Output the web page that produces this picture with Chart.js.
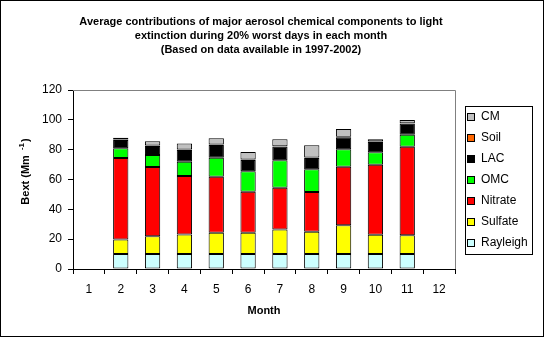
<!DOCTYPE html>
<html>
<head>
<meta charset="utf-8">
<script src="https://cdn.jsdelivr.net/npm/chart.js@4.4.1/dist/chart.umd.min.js"></script>
<style>
  html, body { margin: 0; padding: 0; background: #fff; }
  #wrap { width: 545px; height: 338px; position: relative; }
</style>
</head>
<body>
<div id="wrap"><canvas id="c" width="545" height="338"></canvas></div>
<script>
// Months on the category axis
const months = ['1', '2', '3', '4', '5', '6', '7', '8', '9', '10', '11', '12'];

// Light extinction contributions (Mm-1) per component, months 1-12
const rayleigh = [null, 10, 10, 10, 10, 10, 10, 10, 10, 10, 10, null];
const sulfate  = [null, 9.7, 11.9, 13.2, 14.3, 14.3, 16.4, 15.0, 19.3, 13.0, 12.6, null];
const nitrate  = [null, 54.7, 46.5, 39.1, 37.6, 27.5, 28.1, 26.6, 39.3, 46.9, 59.4, null];
const omc      = [null, 6.5, 8.0, 9.6, 12.7, 13.7, 18.4, 15.2, 11.6, 8.3, 8.0, null];
const lac      = [null, 5.6, 6.1, 7.9, 8.5, 7.6, 9.1, 7.6, 8.1, 6.9, 7.4, null];
const soil     = [null, 0.3, 0.3, 0.3, 0.3, 0.3, 0.3, 0.3, 0.3, 0.3, 0.3, null];
const cm       = [null, 1.2, 2.8, 4.1, 4.2, 5.0, 4.6, 8.2, 5.3, 1.5, 2.2, null];

// Y axis ticks
const yTicks = [0, 20, 40, 60, 80, 100, 120];

const titleLines = [
  'Average contributions of major aerosol chemical components to light',
  'extinction during 20% worst days in each month',
  '(Based on data available in 1997-2002)'
];

const series = [
  { label: 'Rayleigh', data: rayleigh, color: '#CCFFFF' },
  { label: 'Sulfate',  data: sulfate,  color: '#FFFF00' },
  { label: 'Nitrate',  data: nitrate,  color: '#FF0000' },
  { label: 'OMC',      data: omc,      color: '#00FF00' },
  { label: 'LAC',      data: lac,      color: '#000000' },
  { label: 'Soil',     data: soil,     color: '#FF6600' },
  { label: 'CM',       data: cm,       color: '#C0C0C0' }
];

const FONT = '"Liberation Sans", Arial, sans-serif';

// Frame, title, y-axis title, plot border and legend box
const decor = {
  id: 'decor',
  afterDraw(chart) {
    const ctx = chart.ctx;
    const a = chart.chartArea;
    ctx.save();

    // outer frame
    ctx.strokeStyle = '#000';
    ctx.lineWidth = 1;
    ctx.strokeRect(0.5, 0.5, 543, 336);

    // gray top/right border of the plot area
    ctx.strokeStyle = '#808080';
    ctx.beginPath();
    ctx.moveTo(a.left, a.top + 0.5);
    ctx.lineTo(a.right + 0.5, a.top + 0.5);
    ctx.lineTo(a.right + 0.5, a.bottom);
    ctx.stroke();

    // title
    ctx.fillStyle = '#000';
    ctx.font = 'bold 11px ' + FONT;
    ctx.textAlign = 'center';
    ctx.textBaseline = 'middle';
    const ty = [22, 36, 50];
    titleLines.forEach((t, i) => ctx.fillText(t, 261, ty[i]));

    // y-axis title with superscript
    ctx.save();
    ctx.translate(26, (a.top + a.bottom) / 2 - 8);
    ctx.rotate(-Math.PI / 2);
    ctx.textAlign = 'left';
    ctx.textBaseline = 'middle';
    const base = 'Bext (Mm ';
    const sup = '-1';
    const end = ')';
    ctx.font = 'bold 11px ' + FONT;
    const wBase = ctx.measureText(base).width;
    ctx.font = 'bold 8px ' + FONT;
    const wSup = ctx.measureText(sup).width;
    ctx.font = 'bold 11px ' + FONT;
    const wEnd = ctx.measureText(end).width;
    let x = -(wBase + wSup + wEnd + 3) / 2;
    ctx.fillText(base, x, 0);
    x += wBase + 2;
    ctx.font = 'bold 8px ' + FONT;
    ctx.fillText(sup, x, -4);
    x += wSup + 1;
    ctx.font = 'bold 11px ' + FONT;
    ctx.fillText(end, x, 0);
    ctx.restore();

    // legend
    const lx = 465, ly = 106, lw = 67, lh = 148;
    ctx.strokeStyle = '#000';
    ctx.strokeRect(lx + 0.5, ly + 0.5, lw, lh);
    ctx.font = '12px ' + FONT;
    ctx.textAlign = 'left';
    ctx.textBaseline = 'middle';
    const items = chart.data.datasets.slice().reverse();
    items.forEach((ds, i) => {
      const cy = 117 + i * 21;
      ctx.fillStyle = ds.backgroundColor;
      ctx.fillRect(468, cy - 3, 6, 6);
      ctx.strokeStyle = '#000';
      ctx.strokeRect(467.5, cy - 3.5, 7, 7);
      ctx.fillStyle = '#000';
      ctx.fillText(ds.label, 481, cy);
    });

    ctx.restore();
  }
};

new Chart(document.getElementById('c'), {
  type: 'bar',
  data: {
    labels: months,
    datasets: series.map(s => ({
      label: s.label,
      data: s.data,
      backgroundColor: s.color,
      borderColor: '#000',
      borderWidth: 1,
      borderSkipped: false,
      barPercentage: 0.48,
      categoryPercentage: 1
    }))
  },
  options: {
    responsive: false,
    animation: false,
    layout: { padding: { left: 0, right: 90, top: 90, bottom: 0 } },
    plugins: {
      legend: { display: false },
      title: { display: false },
      tooltip: { enabled: false }
    },
    scales: {
      x: {
        stacked: true,
        afterFit(scale) { scale.height = 69; },
        grid: {
          offset: true,
          drawOnChartArea: false,
          drawTicks: true,
          tickLength: 5,
          color: '#000'
        },
        border: { color: '#000', width: 1 },
        ticks: {
          color: '#000',
          font: { family: FONT, size: 12 },
          padding: 8,
          maxRotation: 0
        },
        title: {
          display: true,
          text: 'Month',
          color: '#000',
          font: { family: FONT, size: 11, weight: 'bold' },
          padding: { top: 0, bottom: 20 }
        }
      },
      y: {
        stacked: true,
        min: 0,
        max: 120,
        afterFit(scale) { scale.width = 73; },
        afterBuildTicks(scale) { scale.ticks = yTicks.map(v => ({ value: v })); },
        grid: {
          drawOnChartArea: false,
          drawTicks: true,
          tickLength: 5,
          color: '#000'
        },
        border: { color: '#000', width: 1 },
        ticks: {
          color: '#000',
          font: { family: FONT, size: 12 },
          padding: 6
        }
      }
    }
  },
  plugins: [decor]
});
</script>
</body>
</html>
